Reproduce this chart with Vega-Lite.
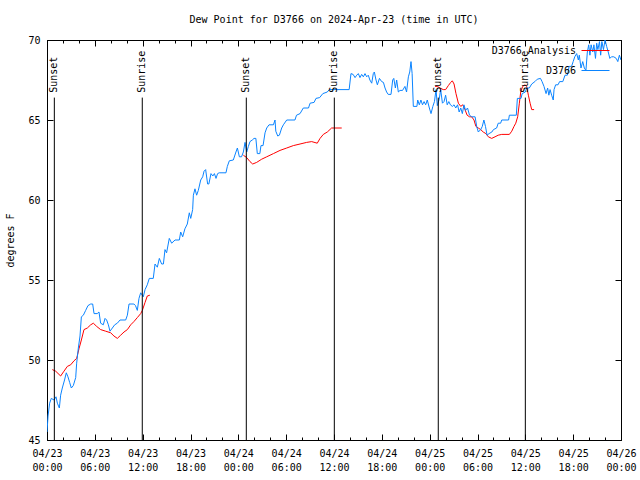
{
  "$schema": "https://vega.github.io/schema/vega-lite/v6.json",
  "width": 574,
  "height": 400,
  "autosize": "none",
  "padding": {"left": 47, "top": 40, "right": 19, "bottom": 40},
  "background": "white",
  "title": {"text": "Dew Point for D3766 on 2024-Apr-23 (time in UTC)", "fontSize": 10, "fontWeight": "normal", "font": "DejaVu Sans Mono", "color": "#000", "offset": 10, "anchor": "middle"},
  "datasets": {
    "obs": [
      {"hours":0,"dewpoint":45.5},{"hours":0.13,"dewpoint":46.5},{"hours":0.33,"dewpoint":47.3},{"hours":0.54,"dewpoint":47.6},{"hours":0.88,"dewpoint":47.5},{"hours":1.13,"dewpoint":47.7},{"hours":1.3,"dewpoint":47.3},{"hours":1.55,"dewpoint":47.0},{"hours":1.71,"dewpoint":47.8},{"hours":1.92,"dewpoint":48.25},{"hours":2.2,"dewpoint":48.75},{"hours":2.42,"dewpoint":49.2},{"hours":2.63,"dewpoint":48.95},{"hours":2.84,"dewpoint":48.6},{"hours":3.05,"dewpoint":48.25},{"hours":3.3,"dewpoint":48.4},{"hours":3.6,"dewpoint":48.9},{"hours":3.72,"dewpoint":49.8},{"hours":3.93,"dewpoint":50.75},{"hours":4.14,"dewpoint":51.5},{"hours":4.31,"dewpoint":52.7},{"hours":4.56,"dewpoint":52.8},{"hours":4.85,"dewpoint":53.1},{"hours":5.14,"dewpoint":53.4},{"hours":5.48,"dewpoint":53.5},{"hours":5.73,"dewpoint":53.5},{"hours":5.9,"dewpoint":52.9},{"hours":6.3,"dewpoint":52.9},{"hours":6.52,"dewpoint":53.0},{"hours":6.73,"dewpoint":52.3},{"hours":7.06,"dewpoint":52.2},{"hours":7.28,"dewpoint":52.6},{"hours":7.48,"dewpoint":52.5},{"hours":7.7,"dewpoint":52.2},{"hours":7.9,"dewpoint":51.8},{"hours":8.2,"dewpoint":52.0},{"hours":8.49,"dewpoint":52.2},{"hours":8.82,"dewpoint":52.3},{"hours":9.16,"dewpoint":52.5},{"hours":9.87,"dewpoint":52.5},{"hours":10.08,"dewpoint":52.8},{"hours":10.29,"dewpoint":53.5},{"hours":10.9,"dewpoint":53.5},{"hours":11.1,"dewpoint":53.4},{"hours":11.33,"dewpoint":53.1},{"hours":11.54,"dewpoint":53.85},{"hours":11.75,"dewpoint":54.2},{"hours":12.08,"dewpoint":53.95},{"hours":12.3,"dewpoint":54.4},{"hours":12.58,"dewpoint":54.7},{"hours":12.83,"dewpoint":55.1},{"hours":13.33,"dewpoint":55.1},{"hours":13.55,"dewpoint":56.0},{"hours":13.84,"dewpoint":55.8},{"hours":14.09,"dewpoint":56.35},{"hours":14.38,"dewpoint":56.0},{"hours":14.6,"dewpoint":56.0},{"hours":14.8,"dewpoint":56.9},{"hours":15.0,"dewpoint":56.7},{"hours":15.34,"dewpoint":57.6},{"hours":15.64,"dewpoint":57.3},{"hours":16.06,"dewpoint":57.5},{"hours":16.6,"dewpoint":57.5},{"hours":16.77,"dewpoint":58.0},{"hours":17.02,"dewpoint":57.7},{"hours":17.3,"dewpoint":58.2},{"hours":17.6,"dewpoint":58.5},{"hours":17.85,"dewpoint":59.2},{"hours":18.03,"dewpoint":58.85},{"hours":18.27,"dewpoint":59.4},{"hours":18.36,"dewpoint":60.3},{"hours":18.56,"dewpoint":60.7},{"hours":18.77,"dewpoint":60.3},{"hours":18.98,"dewpoint":60.6},{"hours":19.28,"dewpoint":61.25},{"hours":19.53,"dewpoint":61.45},{"hours":19.7,"dewpoint":61.8},{"hours":19.9,"dewpoint":61.9},{"hours":20.15,"dewpoint":61.0},{"hours":20.3,"dewpoint":61.0},{"hours":20.57,"dewpoint":61.65},{"hours":20.8,"dewpoint":61.5},{"hours":21.0,"dewpoint":61.65},{"hours":21.2,"dewpoint":61.35},{"hours":21.4,"dewpoint":61.65},{"hours":21.6,"dewpoint":61.7},{"hours":22.45,"dewpoint":61.7},{"hours":22.62,"dewpoint":62.1},{"hours":22.87,"dewpoint":62.45},{"hours":23.37,"dewpoint":62.5},{"hours":23.7,"dewpoint":63.0},{"hours":23.88,"dewpoint":63.25},{"hours":24.13,"dewpoint":62.7},{"hours":24.4,"dewpoint":62.7},{"hours":24.63,"dewpoint":63.0},{"hours":24.84,"dewpoint":63.6},{"hours":25.05,"dewpoint":63.0},{"hours":25.26,"dewpoint":63.35},{"hours":25.46,"dewpoint":63.65},{"hours":25.75,"dewpoint":63.75},{"hours":25.97,"dewpoint":63.85},{"hours":26.2,"dewpoint":63.85},{"hours":26.38,"dewpoint":62.9},{"hours":26.7,"dewpoint":62.9},{"hours":26.84,"dewpoint":63.4},{"hours":27.1,"dewpoint":63.4},{"hours":27.35,"dewpoint":64.2},{"hours":27.56,"dewpoint":64.5},{"hours":27.85,"dewpoint":64.7},{"hours":28.4,"dewpoint":64.7},{"hours":28.6,"dewpoint":65.0},{"hours":28.7,"dewpoint":64.3},{"hours":28.94,"dewpoint":64.0},{"hours":29.15,"dewpoint":64.05},{"hours":29.44,"dewpoint":64.5},{"hours":29.65,"dewpoint":64.7},{"hours":30.07,"dewpoint":65.0},{"hours":31.1,"dewpoint":65.0},{"hours":31.3,"dewpoint":65.3},{"hours":31.74,"dewpoint":65.4},{"hours":32.15,"dewpoint":65.75},{"hours":32.8,"dewpoint":65.75},{"hours":33.0,"dewpoint":66.05},{"hours":33.5,"dewpoint":66.1},{"hours":33.74,"dewpoint":66.35},{"hours":34.2,"dewpoint":66.4},{"hours":34.6,"dewpoint":66.65},{"hours":35.16,"dewpoint":66.75},{"hours":35.4,"dewpoint":66.9},{"hours":37.9,"dewpoint":66.9},{"hours":38.13,"dewpoint":67.9},{"hours":38.4,"dewpoint":67.85},{"hours":38.64,"dewpoint":67.65},{"hours":38.85,"dewpoint":67.8},{"hours":39.05,"dewpoint":67.9},{"hours":39.26,"dewpoint":67.65},{"hours":39.47,"dewpoint":67.85},{"hours":39.68,"dewpoint":67.7},{"hours":39.89,"dewpoint":67.9},{"hours":40.1,"dewpoint":67.7},{"hours":40.3,"dewpoint":67.8},{"hours":40.5,"dewpoint":67.5},{"hours":40.73,"dewpoint":67.3},{"hours":40.93,"dewpoint":67.9},{"hours":41.06,"dewpoint":68.0},{"hours":41.27,"dewpoint":67.5},{"hours":41.44,"dewpoint":67.2},{"hours":41.7,"dewpoint":67.6},{"hours":41.98,"dewpoint":67.4},{"hours":42.2,"dewpoint":67.35},{"hours":42.4,"dewpoint":67.0},{"hours":42.6,"dewpoint":66.75},{"hours":42.8,"dewpoint":66.6},{"hours":43.15,"dewpoint":66.6},{"hours":43.36,"dewpoint":67.5},{"hours":43.5,"dewpoint":67.6},{"hours":43.7,"dewpoint":67.0},{"hours":43.86,"dewpoint":67.5},{"hours":44.07,"dewpoint":66.75},{"hours":44.28,"dewpoint":66.85},{"hours":44.6,"dewpoint":66.85},{"hours":44.9,"dewpoint":67.1},{"hours":45.1,"dewpoint":66.75},{"hours":45.33,"dewpoint":67.7},{"hours":45.5,"dewpoint":68.0},{"hours":45.66,"dewpoint":68.65},{"hours":45.8,"dewpoint":67.9},{"hours":45.95,"dewpoint":65.85},{"hours":46.4,"dewpoint":65.85},{"hours":46.5,"dewpoint":66.25},{"hours":46.7,"dewpoint":65.95},{"hours":46.9,"dewpoint":66.25},{"hours":47.1,"dewpoint":65.95},{"hours":47.3,"dewpoint":66.15},{"hours":47.5,"dewpoint":65.95},{"hours":47.7,"dewpoint":66.25},{"hours":47.96,"dewpoint":65.75},{"hours":48.17,"dewpoint":65.4},{"hours":48.4,"dewpoint":65.85},{"hours":48.6,"dewpoint":66.15},{"hours":48.8,"dewpoint":66.9},{"hours":48.96,"dewpoint":65.9},{"hours":49.2,"dewpoint":66.3},{"hours":49.38,"dewpoint":66.9},{"hours":49.6,"dewpoint":66.05},{"hours":49.8,"dewpoint":66.15},{"hours":50.0,"dewpoint":66.55},{"hours":50.2,"dewpoint":65.95},{"hours":50.4,"dewpoint":66.15},{"hours":50.6,"dewpoint":65.95},{"hours":50.85,"dewpoint":65.85},{"hours":51.06,"dewpoint":65.95},{"hours":51.27,"dewpoint":65.75},{"hours":51.5,"dewpoint":65.95},{"hours":51.7,"dewpoint":65.5},{"hours":51.9,"dewpoint":65.75},{"hours":52.1,"dewpoint":65.4},{"hours":52.3,"dewpoint":65.95},{"hours":52.5,"dewpoint":65.6},{"hours":52.75,"dewpoint":65.75},{"hours":53.0,"dewpoint":65.3},{"hours":53.27,"dewpoint":65.2},{"hours":53.7,"dewpoint":65.2},{"hours":53.9,"dewpoint":64.6},{"hours":54.1,"dewpoint":64.25},{"hours":54.4,"dewpoint":64.4},{"hours":54.6,"dewpoint":64.6},{"hours":54.8,"dewpoint":65.0},{"hours":55.0,"dewpoint":64.6},{"hours":55.2,"dewpoint":64.05},{"hours":55.45,"dewpoint":64.15},{"hours":55.8,"dewpoint":64.25},{"hours":56.0,"dewpoint":64.4},{"hours":56.4,"dewpoint":64.5},{"hours":56.6,"dewpoint":64.8},{"hours":56.9,"dewpoint":64.8},{"hours":57.04,"dewpoint":65.0},{"hours":57.9,"dewpoint":65.0},{"hours":58.0,"dewpoint":65.3},{"hours":58.87,"dewpoint":65.3},{"hours":59.0,"dewpoint":66.35},{"hours":59.46,"dewpoint":66.35},{"hours":59.6,"dewpoint":66.65},{"hours":60.0,"dewpoint":66.75},{"hours":60.17,"dewpoint":67.0},{"hours":60.5,"dewpoint":67.0},{"hours":60.8,"dewpoint":67.25},{"hours":61.2,"dewpoint":67.4},{"hours":61.5,"dewpoint":67.55},{"hours":61.9,"dewpoint":67.6},{"hours":62.1,"dewpoint":67.4},{"hours":62.34,"dewpoint":67.1},{"hours":62.6,"dewpoint":66.65},{"hours":62.8,"dewpoint":67.0},{"hours":62.95,"dewpoint":66.55},{"hours":63.1,"dewpoint":66.9},{"hours":63.3,"dewpoint":66.55},{"hours":63.5,"dewpoint":66.25},{"hours":63.6,"dewpoint":66.9},{"hours":63.8,"dewpoint":67.2},{"hours":64.1,"dewpoint":67.2},{"hours":64.3,"dewpoint":67.4},{"hours":64.7,"dewpoint":67.4},{"hours":64.98,"dewpoint":67.8},{"hours":65.27,"dewpoint":67.8},{"hours":65.5,"dewpoint":68.35},{"hours":65.8,"dewpoint":68.35},{"hours":66.0,"dewpoint":68.65},{"hours":66.2,"dewpoint":68.95},{"hours":66.44,"dewpoint":69.15},{"hours":66.65,"dewpoint":68.75},{"hours":66.77,"dewpoint":69.05},{"hours":66.98,"dewpoint":68.25},{"hours":67.2,"dewpoint":68.65},{"hours":67.4,"dewpoint":68.25},{"hours":67.6,"dewpoint":68.1},{"hours":67.78,"dewpoint":69.25},{"hours":67.95,"dewpoint":69.7},{"hours":68.1,"dewpoint":69.05},{"hours":68.25,"dewpoint":69.7},{"hours":68.46,"dewpoint":69.25},{"hours":68.6,"dewpoint":69.7},{"hours":68.8,"dewpoint":68.85},{"hours":68.95,"dewpoint":69.8},{"hours":69.1,"dewpoint":69.4},{"hours":69.3,"dewpoint":69.9},{"hours":69.45,"dewpoint":69.05},{"hours":69.6,"dewpoint":69.9},{"hours":69.8,"dewpoint":69.4},{"hours":70.0,"dewpoint":70.0},{"hours":70.2,"dewpoint":69.6},{"hours":70.4,"dewpoint":69.25},{"hours":70.6,"dewpoint":68.85},{"hours":70.8,"dewpoint":68.95},{"hours":71.1,"dewpoint":68.95},{"hours":71.4,"dewpoint":68.85},{"hours":71.6,"dewpoint":68.65},{"hours":71.8,"dewpoint":69.05},{"hours":72.0,"dewpoint":68.75}
    ],
    "analysis": [
      {"segment":1,"hours":0.67,"dewpoint":49.4},{"segment":1,"hours":1.09,"dewpoint":49.3},{"segment":1,"hours":1.71,"dewpoint":49.0},{"segment":1,"hours":2.13,"dewpoint":49.3},{"segment":1,"hours":2.55,"dewpoint":49.6},{"segment":1,"hours":2.97,"dewpoint":49.7},{"segment":1,"hours":3.39,"dewpoint":49.95},{"segment":1,"hours":3.72,"dewpoint":50.1},{"segment":1,"hours":4.01,"dewpoint":50.7},{"segment":1,"hours":4.31,"dewpoint":51.25},{"segment":1,"hours":4.64,"dewpoint":51.9},{"segment":1,"hours":5.06,"dewpoint":52.0},{"segment":1,"hours":5.48,"dewpoint":52.2},{"segment":1,"hours":5.81,"dewpoint":52.3},{"segment":1,"hours":6.23,"dewpoint":52.1},{"segment":1,"hours":6.73,"dewpoint":51.9},{"segment":1,"hours":7.36,"dewpoint":51.8},{"segment":1,"hours":7.99,"dewpoint":51.7},{"segment":1,"hours":8.4,"dewpoint":51.5},{"segment":1,"hours":8.82,"dewpoint":51.35},{"segment":1,"hours":9.24,"dewpoint":51.55},{"segment":1,"hours":9.66,"dewpoint":51.75},{"segment":1,"hours":10.08,"dewpoint":51.9},{"segment":1,"hours":10.5,"dewpoint":52.2},{"segment":1,"hours":10.9,"dewpoint":52.4},{"segment":1,"hours":11.33,"dewpoint":52.65},{"segment":1,"hours":11.75,"dewpoint":52.9},{"segment":1,"hours":11.96,"dewpoint":53.1},{"segment":1,"hours":12.3,"dewpoint":53.6},{"segment":1,"hours":12.58,"dewpoint":54.0},{"segment":1,"hours":12.9,"dewpoint":54.05},
      {"segment":2,"hours":24.63,"dewpoint":62.8},{"segment":2,"hours":25.05,"dewpoint":62.65},{"segment":2,"hours":25.46,"dewpoint":62.4},{"segment":2,"hours":25.8,"dewpoint":62.25},{"segment":2,"hours":26.3,"dewpoint":62.35},{"segment":2,"hours":26.93,"dewpoint":62.55},{"segment":2,"hours":27.56,"dewpoint":62.7},{"segment":2,"hours":28.4,"dewpoint":62.9},{"segment":2,"hours":29.23,"dewpoint":63.1},{"segment":2,"hours":30.07,"dewpoint":63.25},{"segment":2,"hours":30.9,"dewpoint":63.4},{"segment":2,"hours":31.74,"dewpoint":63.5},{"segment":2,"hours":32.57,"dewpoint":63.6},{"segment":2,"hours":33.2,"dewpoint":63.65},{"segment":2,"hours":33.9,"dewpoint":63.55},{"segment":2,"hours":34.25,"dewpoint":63.85},{"segment":2,"hours":34.66,"dewpoint":64.1},{"segment":2,"hours":35.16,"dewpoint":64.25},{"segment":2,"hours":35.7,"dewpoint":64.5},{"segment":2,"hours":36.1,"dewpoint":64.5},{"segment":2,"hours":36.97,"dewpoint":64.5},
      {"segment":3,"hours":48.67,"dewpoint":67.1},{"segment":3,"hours":48.96,"dewpoint":67.1},{"segment":3,"hours":49.3,"dewpoint":67.0},{"segment":3,"hours":49.7,"dewpoint":66.9},{"segment":3,"hours":50.0,"dewpoint":66.9},{"segment":3,"hours":50.34,"dewpoint":67.15},{"segment":3,"hours":50.64,"dewpoint":67.35},{"segment":3,"hours":50.84,"dewpoint":67.45},{"segment":3,"hours":51.06,"dewpoint":67.25},{"segment":3,"hours":51.3,"dewpoint":66.65},{"segment":3,"hours":51.6,"dewpoint":66.05},{"segment":3,"hours":51.9,"dewpoint":65.85},{"segment":3,"hours":52.15,"dewpoint":65.95},{"segment":3,"hours":52.43,"dewpoint":65.65},{"segment":3,"hours":52.7,"dewpoint":65.3},{"segment":3,"hours":53.0,"dewpoint":65.2},{"segment":3,"hours":53.27,"dewpoint":65.2},{"segment":3,"hours":53.56,"dewpoint":65.0},{"segment":3,"hours":53.8,"dewpoint":64.6},{"segment":3,"hours":54.1,"dewpoint":64.5},{"segment":3,"hours":54.4,"dewpoint":64.4},{"segment":3,"hours":54.72,"dewpoint":64.25},{"segment":3,"hours":55.05,"dewpoint":64.15},{"segment":3,"hours":55.36,"dewpoint":63.95},{"segment":3,"hours":55.78,"dewpoint":63.85},{"segment":3,"hours":56.2,"dewpoint":63.95},{"segment":3,"hours":56.6,"dewpoint":64.05},{"segment":3,"hours":57.04,"dewpoint":64.1},{"segment":3,"hours":58.0,"dewpoint":64.1},{"segment":3,"hours":58.3,"dewpoint":64.3},{"segment":3,"hours":58.58,"dewpoint":64.6},{"segment":3,"hours":58.8,"dewpoint":64.8},{"segment":3,"hours":59.04,"dewpoint":65.2},{"segment":3,"hours":59.25,"dewpoint":66.05},{"segment":3,"hours":59.42,"dewpoint":66.75},{"segment":3,"hours":59.67,"dewpoint":67.1},{"segment":3,"hours":59.96,"dewpoint":67.2},{"segment":3,"hours":60.17,"dewpoint":67.1},{"segment":3,"hours":60.38,"dewpoint":66.55},{"segment":3,"hours":60.6,"dewpoint":66.05},{"segment":3,"hours":60.8,"dewpoint":65.65},{"segment":3,"hours":61.1,"dewpoint":65.65}
    ],
    "sun": [
      {"event":"Sunset","hours":0.92},{"event":"Sunrise","hours":11.95},{"event":"Sunset","hours":25.0},{"event":"Sunrise","hours":36.04},{"event":"Sunset","hours":49.08},{"event":"Sunrise","hours":60.0}
    ]
  },
  "layer": [
    {
      "data": {"name": "analysis"},
      "mark": {"type": "line", "strokeWidth": 1, "clip": true},
      "encoding": {
        "x": {"field": "hours", "type": "quantitative", "scale": {"domain": [0, 72], "nice": false, "zero": false},
          "axis": {"orient": "bottom", "title": null, "values": [0,2,4,6,8,10,12,14,16,18,20,22,24,26,28,30,32,34,36,38,40,42,44,46,48,50,52,54,56,58,60,62,64,66,68,70,72],
            "labelExpr": "datum.value % 6 != 0 ? '' : ['04/' + (23 + floor(datum.value / 24)), (datum.value % 24 < 10 ? '0' : '') + (datum.value % 24) + ':00']",
            "labelOverlap": false, "labelFlush": false, "labelLineHeight": 14, "labelPadding": 14,
            "tickSize": {"condition": {"test": "datum.value % 6 === 0", "value": -6}, "value": -3}}},
        "y": {"field": "dewpoint", "type": "quantitative", "scale": {"domain": [45, 70], "nice": false, "zero": false},
          "axis": {"orient": "left", "title": "degrees F", "values": [45,50,55,60,65,70], "tickSize": -6, "labelPadding": 13, "titlePadding": 12}},
        "color": {"datum": "D3766 Analysis", "type": "nominal",
          "scale": {"domain": ["D3766 Analysis", "D3766"], "range": ["#ff0000", "#0a84ff"]},
          "legend": {"orient": "none", "legendX": 534, "legendY": -4, "title": null, "symbolType": "stroke", "symbolSize": 784, "symbolStrokeWidth": 1, "labelAlign": "right", "labelOffset": -34, "labelFontSize": 10, "labelFont": "DejaVu Sans Mono", "labelColor": "#000", "rowPadding": -8, "padding": 0}},
        "detail": {"field": "segment"}
      }
    },
    {
      "data": {"name": "obs"},
      "mark": {"type": "line", "strokeWidth": 1, "clip": true},
      "encoding": {
        "x": {"field": "hours", "type": "quantitative",
          "axis": {"orient": "top", "title": null, "labels": false, "values": [0,2,4,6,8,10,12,14,16,18,20,22,24,26,28,30,32,34,36,38,40,42,44,46,48,50,52,54,56,58,60,62,64,66,68,70,72],
            "tickSize": {"condition": {"test": "datum.value % 6 === 0", "value": -6}, "value": -3}}},
        "y": {"field": "dewpoint", "type": "quantitative",
          "axis": {"orient": "right", "title": null, "labels": false, "values": [45,50,55,60,65,70], "tickSize": -6}},
        "color": {"datum": "D3766", "type": "nominal"}
      }
    },
    {
      "data": {"name": "sun"},
      "mark": {"type": "rule", "color": "#000", "strokeWidth": 1},
      "encoding": {
        "x": {"field": "hours", "type": "quantitative", "axis": null},
        "y": {"datum": 66.4, "axis": null},
        "y2": {"datum": 45}
      }
    },
    {
      "data": {"name": "sun"},
      "mark": {"type": "text", "angle": 270, "align": "left", "baseline": "middle", "fontSize": 10, "font": "DejaVu Sans Mono", "color": "#000"},
      "encoding": {
        "x": {"field": "hours", "type": "quantitative", "axis": null},
        "y": {"datum": 66.7, "axis": null},
        "text": {"field": "event"}
      }
    }
  ],
  "resolve": {"axis": {"x": "independent", "y": "independent"}},
  "config": {
    "font": "DejaVu Sans Mono",
    "view": {"stroke": "#000", "strokeWidth": 1},
    "axis": {"grid": false, "domainColor": "#000", "tickColor": "#000", "labelColor": "#000", "titleColor": "#000", "labelFont": "DejaVu Sans Mono", "labelFontSize": 10, "titleFont": "DejaVu Sans Mono", "titleFontSize": 10, "titleFontWeight": "normal"}
  }
}
